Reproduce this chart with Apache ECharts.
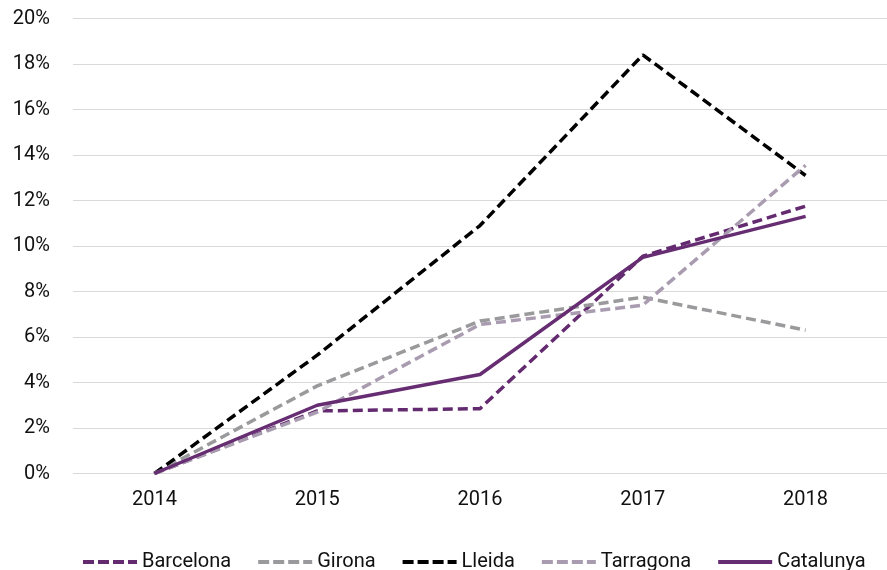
<!DOCTYPE html>
<html>
<head>
<meta charset="utf-8">
<script src="https://cdn.jsdelivr.net/npm/echarts@6/dist/echarts.min.js"></script>
<style>
  html, body { margin: 0; padding: 0; background: #fff; }
  #chart { width: 887px; height: 570px; }
</style>
</head>
<body>
<div id="chart"></div>
<script>
// Annual variation by province, 2014-2018 (%)
const years = ['2014', '2015', '2016', '2017', '2018'];
const yTicks = [0, 2, 4, 6, 8, 10, 12, 14, 16, 18, 20];

const barcelona = [0, 2.75, 2.85, 9.55, 11.75];
const girona    = [0, 3.85, 6.7, 7.75, 6.3];
const lleida    = [0, 5.2, 10.9, 18.4, 13.1];
const tarragona = [0, 2.7, 6.55, 7.4, 13.55];
const catalunya = [0, 3.0, 4.35, 9.5, 11.3];

const names  = ['Barcelona', 'Girona', 'Lleida', 'Tarragona', 'Catalunya'];
const colors = ['#642a70', '#9a9a9c', '#000000', '#a99cb0', '#662d72'];

const FONT = 'Roboto';

function lineSeries(i, data, dashed) {
  return {
    name: names[i],
    type: 'line',
    data: data,
    symbol: 'none',
    smooth: false,
    lineStyle: {
      color: colors[i],
      width: 3.5,
      type: dashed ? [10, 5] : 'solid'
    },
    itemStyle: { color: colors[i] }
  };
}

const legendData = names.map((n, i) => ({
  name: n,
  itemStyle: { opacity: 0 },
  lineStyle: {
    color: colors[i],
    width: 4,
    type: i === 4 ? 'solid' : [11, 4]
  }
}));

const chart = echarts.init(document.getElementById('chart'), null, { renderer: 'canvas' });
chart.setOption({
  animation: false,
  grid: { left: 73, right: -2, top: 18.5, bottom: 96.5, containLabel: false },
  legend: {
    top: 552,
    left: 81,
    width: 1200,
    padding: 0,
    itemWidth: 54,
    itemHeight: 14,
    itemGap: 25,
    textStyle: { fontFamily: FONT, fontSize: 20, color: '#111', padding: [0, 0, 0, 0] },
    data: legendData
  },
  xAxis: {
    type: 'category',
    data: years,
    boundaryGap: true,
    axisLine: { show: false },
    axisTick: { show: false },
    axisLabel: { fontFamily: FONT, fontSize: 20, color: '#111', margin: 16 }
  },
  yAxis: {
    type: 'value',
    min: yTicks[0],
    max: yTicks[yTicks.length - 1],
    interval: 2,
    axisLine: { show: false },
    axisTick: { show: false },
    splitLine: { lineStyle: { color: '#d9d9d9', width: 1 } },
    axisLabel: {
      fontFamily: FONT, fontSize: 20, color: '#111', margin: 23,
      formatter: v => v + '%'
    }
  },
  series: [
    lineSeries(0, barcelona, true),
    lineSeries(1, girona, true),
    lineSeries(2, lleida, true),
    lineSeries(3, tarragona, true),
    lineSeries(4, catalunya, false)
  ]
});
</script>
</body>
</html>
